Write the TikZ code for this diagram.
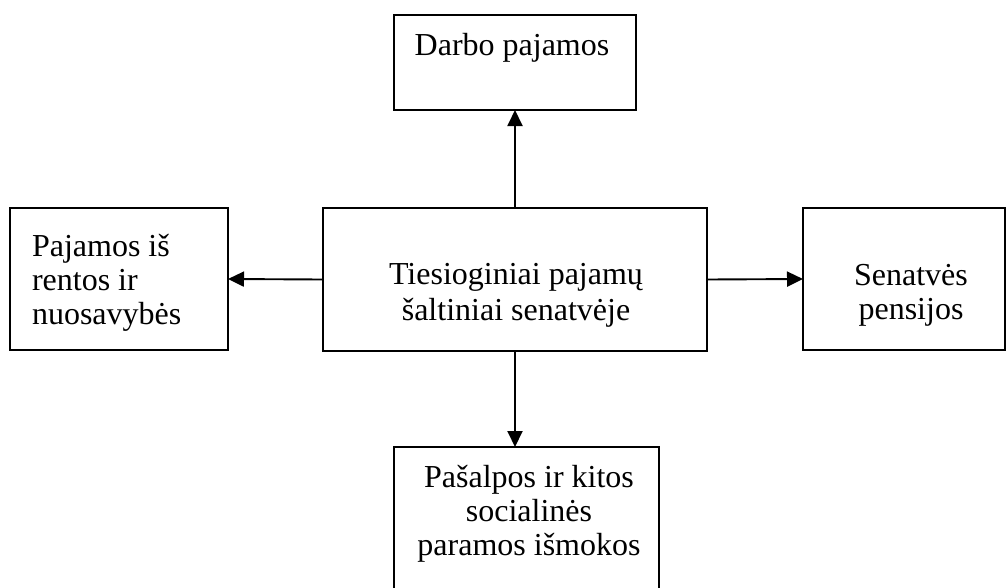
\documentclass[tikz,border=0pt]{standalone}
\usepackage{fontspec}
\setmainfont{Liberation Serif}
\usetikzlibrary{arrows.meta}
\tikzset{
  box/.style={draw=black, line width=1.9pt, rectangle, inner sep=0pt, outer sep=0pt},
  txt/.style={inner sep=0pt, outer sep=0pt, anchor=base, align=center, font=\fontsize{32}{34}\selectfont},
  conn/.style={line width=1.9pt, -{Triangle[length=16pt,width=15pt]}},
}
\begin{document}
\begin{tikzpicture}[x=1pt,y=-1pt]
\useasboundingbox (0,0) rectangle (1006,587);
\clip (0,0) rectangle (1006,587);
\node[box, minimum width=242pt, minimum height=95pt] (top) at (515,62.5) {};
\node[box, minimum width=218pt, minimum height=142pt] (left) at (119,279) {};
\node[box, minimum width=384pt, minimum height=143pt] (center) at (515,279.5) {};
\node[box, minimum width=202pt, minimum height=142pt] (right) at (904,279) {};
\node[box, minimum width=265pt, minimum height=173pt] (bottom) at (526.5,533.5) {};
\node[txt] (ttop) at (512,55) {Darbo pajamos};
\node[txt, anchor=base west, align=left] (tleft) at (32,324) {Pajamos iš\\rentos ir\\nuosavybės};
\node[txt, font=\fontsize{32}{36}\selectfont] (tcenter) at (516,320) {Tiesioginiai pajamų\\šaltiniai senatvėje};
\node[txt] (tright) at (911,319) {Senatvės\\pensijos};
\node[txt] (tbottom) at (529,555) {Pašalpos ir kitos\\socialinės\\paramos išmokos};
\draw[conn] (center.north) -- (top.south);
\draw[conn] (center.west) -- (left.east);
\draw[conn] (center.east) -- (right.west);
\draw[conn] (center.south) -- (center.south |- bottom.north);
\end{tikzpicture}
\end{document}
